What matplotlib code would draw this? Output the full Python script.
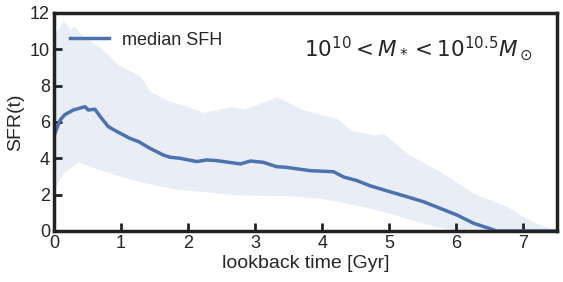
import matplotlib
matplotlib.use("Agg")
import matplotlib.pyplot as plt
import numpy as np

# median SFH
med_t = [0.0, 0.015, 0.09, 0.16, 0.29, 0.46, 0.51, 0.61, 0.69, 0.81, 0.94, 1.13, 1.26, 1.43, 1.63,
         1.73, 1.88, 2.13, 2.28, 2.43, 2.78, 2.93, 3.12, 3.32, 3.47, 3.82, 4.17, 4.32, 4.52, 4.72,
         5.01, 5.26, 5.51, 6.01, 6.26, 6.51, 6.6, 7.5]
med_sfr = [5.2, 5.4, 6.1, 6.4, 6.66, 6.84, 6.66, 6.7, 6.29, 5.74, 5.47, 5.1, 4.92, 4.55, 4.18,
           4.06, 4.0, 3.82, 3.91, 3.87, 3.69, 3.85, 3.78, 3.54, 3.5, 3.32, 3.26, 2.97, 2.77, 2.48,
           2.16, 1.89, 1.61, 0.88, 0.42, 0.12, 0.0, 0.0]

# upper envelope
up_t = [0.0, 0.14, 0.24, 0.29, 0.44, 0.69, 0.94, 1.29, 1.43, 1.73, 1.88, 2.23, 2.63, 2.83, 3.32,
        3.72, 4.22, 4.42, 4.77, 4.92, 5.26, 5.76, 6.26, 6.76, 7.0, 7.25, 7.5]
up_sfr = [10.8, 11.6, 11.06, 11.3, 10.7, 10.1, 9.2, 8.5, 7.7, 7.12, 7.0, 6.53, 6.84, 6.7, 7.39,
          6.66, 6.2, 5.56, 5.28, 5.37, 4.27, 3.27, 2.07, 1.34, 0.79, 0.33, 0.05]

# lower envelope
lo_t = [0.0, 0.14, 0.36, 0.69, 1.18, 1.73, 2.73, 3.57, 3.97, 4.27, 4.72, 5.01, 5.51, 5.85, 6.2, 7.5]
lo_sfr = [2.3, 3.2, 3.8, 3.36, 2.8, 2.35, 1.98, 1.93, 1.8, 1.61, 1.25, 0.97, 0.42, 0.12, 0.0, 0.0]

xticks = [0, 1, 2, 3, 4, 5, 6, 7]
yticks = [0, 2, 4, 6, 8, 10, 12]

plt.rcParams['font.family'] = ['Liberation Sans', 'DejaVu Sans']

fig = plt.figure(figsize=(5.63, 2.82), dpi=100)
ax = fig.add_axes([0.096, 0.181, 0.893, 0.773])

grid = np.linspace(0, 7.5, 600)
upper = np.interp(grid, up_t, up_sfr)
lower = np.interp(grid, lo_t, lo_sfr)
ax.fill_between(grid, lower, upper, color='#4c72b0', alpha=0.12, linewidth=0)
ax.plot(med_t, med_sfr, color='#4c72b0', lw=2.5, label='median SFH')

ax.set_xlim(0, 7.5)
ax.set_ylim(0, 12)
ax.set_xticks(xticks)
ax.set_yticks(yticks)
ax.tick_params(direction='in', length=6, width=2, color='#222222', labelsize=13,
               labelcolor='#262626', pad=3)
for s in ax.spines.values():
    s.set_linewidth(2.5)
    s.set_color('#222222')
ax.set_xlabel('lookback time [Gyr]', fontsize=14, color='#262626', labelpad=2)
ax.set_ylabel('SFR(t)', fontsize=14, color='#262626', labelpad=4)
ax.legend(loc='upper left', bbox_to_anchor=(0.0175, 0.948), frameon=False, fontsize=13,
          handlelength=2.15, handletextpad=0.7, borderaxespad=0.0, labelcolor='#262626')
ax.text(0.952, 0.835, r'$10^{10} < M_* < 10^{10.5} M_\odot$', transform=ax.transAxes,
        ha='right', va='center', fontsize=15.5, color='#262626')

fig.savefig('out.png', dpi=100)
